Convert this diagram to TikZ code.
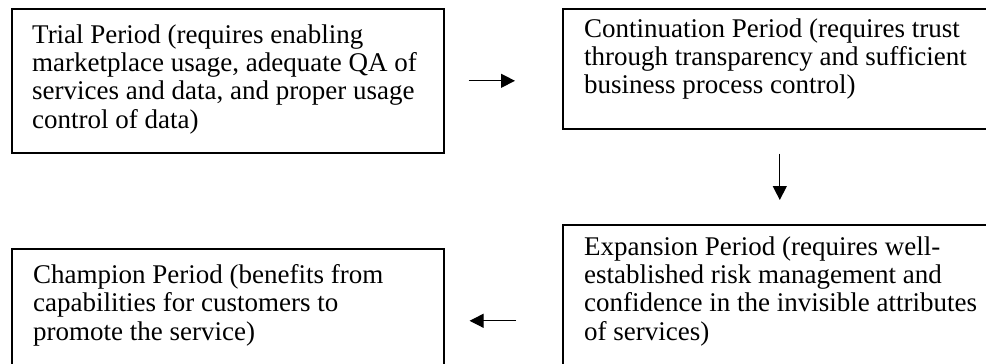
\documentclass[tikz,border=0pt]{standalone}
\usepackage{fontspec}
\setmainfont{Liberation Serif}
\usetikzlibrary{arrows.meta}

\tikzset{
  period/.style={draw, line width=1.6pt, rectangle, inner sep=0pt, anchor=north west},
  periodtext/.style={anchor=north west, inner sep=0pt, align=left,
    font=\fontsize{27pt}{28.3pt}\selectfont},
  flow/.style={line width=1.2pt, -{Triangle[length=14pt,width=14pt]}}
}

\begin{document}
\begin{tikzpicture}[x=1pt,y=-1pt]
      \clip (0,0) rectangle (986,364);

      % the four periods
      \draw (11,8) node[period, minimum width=432pt, minimum height=144pt] (trial) {};
      \draw (562,8) node[period, minimum width=434pt, minimum height=120pt] (continuation) {};
      \draw (562,224) node[period, minimum width=434pt, minimum height=192pt] (expansion) {};
      \draw (11,248) node[period, minimum width=432pt, minimum height=130pt] (champion) {};

      \draw (32,24.4) node[periodtext] (trialtext) {Trial Period (requires enabling\\marketplace usage, adequate QA of\\services and data, and proper usage\\control of data)};
      \draw (584,18.4) node[periodtext] (continuationtext) {Continuation Period (requires trust\\through transparency and sufficient\\business process control)};
      \draw (584,236.4) node[periodtext] (expansiontext) {Expansion Period (requires well-\\established risk management and\\confidence in the invisible attributes\\of services)};
      \draw (33,264.4) node[periodtext] (championtext) {Champion Period (benefits from\\capabilities for customers to\\promote the service)};

      \draw [flow] ([xshift=24pt]trial.east) -- ([xshift=-47pt]continuation.west |- trial.east);
      \draw [flow] ([yshift=-24pt]continuation.south) -- ([yshift=24pt]expansion.north);
      \draw [flow] ([xshift=-46pt]expansion.west) -- ([xshift=25pt]champion.east |- expansion.west);
    \end{tikzpicture}
\end{document}
